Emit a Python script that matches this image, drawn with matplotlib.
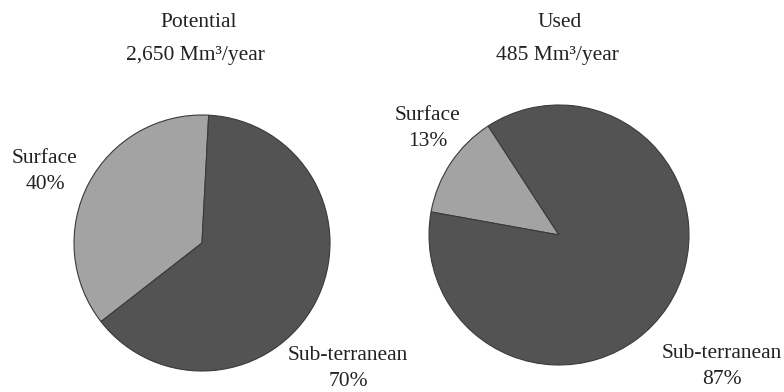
import matplotlib
matplotlib.use("Agg")
import matplotlib.pyplot as plt

# water resources, share of each source (percent)
sources = ["Surface", "Sub-terranean"]
potential_share = [40, 70]
used_share = [13, 87]
titles = ["Potential", "Used"]
volumes = ["2,650 Mm³/year", "485 Mm³/year"]

plt.rcParams['font.family'] = ['Liberation Serif', 'DejaVu Serif']

fig = plt.figure(figsize=(7.84, 3.92), dpi=100)
ax = fig.add_axes([0, 0, 1, 1])

colors = ['#a3a3a3', '#535353']
wedge_style = dict(edgecolor='#3a3a3a', linewidth=0.8)

ax.pie(potential_share, center=(202, 149), radius=128, startangle=87,
       colors=colors, wedgeprops=wedge_style, frame=True)
ax.pie(used_share, center=(559, 157), radius=130, startangle=123,
       colors=colors, wedgeprops=wedge_style, frame=True)
ax.set_xlim(0, 784)
ax.set_ylim(0, 392)
ax.set_aspect('equal')
ax.axis('off')

fs = 15.5
txt = '#222222'
# titles above each pie
ax.text(199, 370, titles[0], ha='center', va='center', fontsize=fs, color=txt)
ax.text(195, 337, volumes[0], ha='center', va='center', fontsize=fs, color=txt)
ax.text(560, 370, titles[1], ha='center', va='center', fontsize=fs, color=txt)
ax.text(557, 337, volumes[1], ha='center', va='center', fontsize=fs, color=txt)

# slice labels
def lab(name, val):
    return f"{name}\n{val}%"

label_kw = dict(ha='center', va='center', fontsize=fs, color=txt, linespacing=1.5)
ax.text(45, 221, lab(sources[0], potential_share[0]), **label_kw)
ax.text(348, 24, lab(sources[1], potential_share[1]), **label_kw)
ax.text(428, 264, lab(sources[0], used_share[0]), **label_kw)
ax.text(722, 25, lab(sources[1], used_share[1]), **label_kw)

fig.savefig("out.png", dpi=100)
